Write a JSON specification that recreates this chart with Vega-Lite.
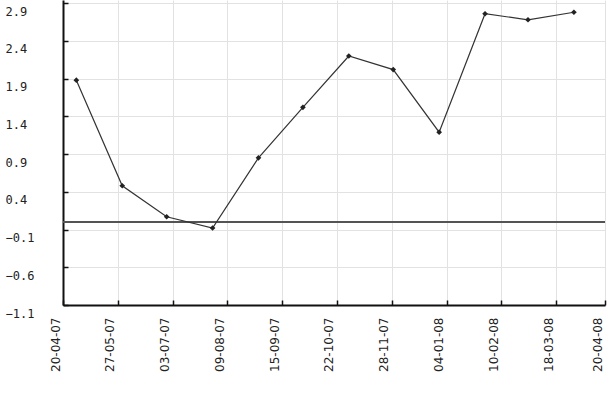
{
  "$schema": "https://vega.github.io/schema/vega-lite/v6.json",
  "width": 542,
  "height": 305,
  "autosize": {"type": "none"},
  "padding": {"left": 63, "top": 0, "right": 4, "bottom": 96},
  "background": "white",
  "data": {
    "values": [
      {"date": "2007-04-29", "value": 1.88},
      {"date": "2007-05-30", "value": 0.48},
      {"date": "2007-06-29", "value": 0.07},
      {"date": "2007-07-30", "value": -0.08},
      {"date": "2007-08-30", "value": 0.85},
      {"date": "2007-09-29", "value": 1.52},
      {"date": "2007-10-30", "value": 2.2},
      {"date": "2007-11-29", "value": 2.02},
      {"date": "2007-12-30", "value": 1.19},
      {"date": "2008-01-30", "value": 2.76},
      {"date": "2008-02-28", "value": 2.68},
      {"date": "2008-03-30", "value": 2.78}
    ]
  },
  "encoding": {
    "x": {
      "field": "date",
      "type": "temporal",
      "scale": {"type": "utc", "domain": [1177027200000, 1208649600000]},
      "axis": {
        "title": null,
        "values": [1177027200000, 1180224000000, 1183420800000, 1186617600000, 1189814400000, 1193011200000, 1196208000000, 1199404800000, 1202601600000, 1205798400000, 1208649600000],
        "format": "%d-%m-%y",
        "labelAngle": 270,
        "labelAlign": "right",
        "labelBaseline": "middle",
        "labelOffset": -8,
        "labelPadding": 17,
        "labelFont": "DejaVu Sans",
        "labelFontSize": 12,
        "labelColor": "#222",
        "labelOverlap": false,
        "labelFlush": false,
        "grid": true,
        "gridColor": "#e2e2e2",
        "gridWidth": 1,
        "domainColor": "#111",
        "domainWidth": 2,
        "tickColor": "#111",
        "tickSize": -5,
        "tickWidth": 1.5
      }
    },
    "y": {
      "field": "value",
      "type": "quantitative",
      "scale": {"domain": [-1.1, 2.942], "nice": false, "zero": false},
      "axis": {
        "title": null,
        "values": [-1.1, -0.6, -0.1, 0.4, 0.9, 1.4, 1.9, 2.4, 2.9],
        "format": ".1f",
        "labelAlign": "left",
        "labelBaseline": "middle",
        "labelOffset": 8,
        "labelPadding": 63,
        "labelFont": "DejaVu Sans Mono",
        "labelFontSize": 12,
        "labelColor": "#222",
        "labelOverlap": false,
        "labelFlush": false,
        "grid": true,
        "gridColor": "#e2e2e2",
        "gridWidth": 1,
        "domainColor": "#111",
        "domainWidth": 2,
        "tickColor": "#111",
        "tickSize": -5,
        "tickWidth": 1.5
      }
    }
  },
  "layer": [
    {
      "mark": {"type": "rule", "color": "#555", "strokeWidth": 1.5},
      "encoding": {"y": {"datum": 0}, "x": null}
    },
    {
      "mark": {"type": "line", "color": "#333", "strokeWidth": 1.2}
    },
    {
      "mark": {"type": "point", "shape": "diamond", "filled": true, "color": "#222", "size": 32, "opacity": 1}
    }
  ],
  "config": {"view": {"stroke": null}}
}
